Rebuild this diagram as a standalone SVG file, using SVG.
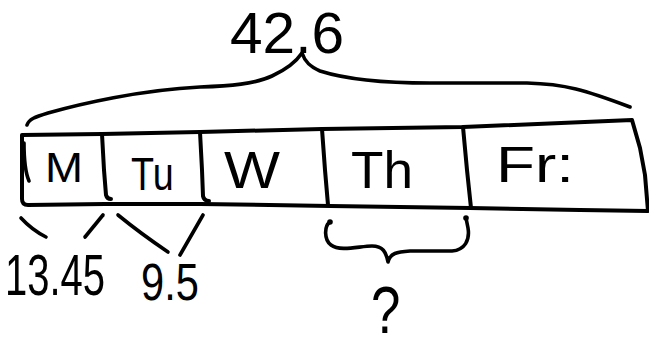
<svg xmlns="http://www.w3.org/2000/svg" width="649" height="348" viewBox="0 0 649 348">
<style>
.ink{fill:none;stroke:#000;stroke-width:3.6;stroke-linecap:round;stroke-linejoin:round}
.box{fill:none;stroke:#000;stroke-width:4;stroke-linecap:round;stroke-linejoin:round}
.t{font-family:"Liberation Sans","DejaVu Sans",sans-serif;fill:#000}
.dot{fill:#000}
</style>
<rect width="649" height="348" fill="#fff"/>
<g id="tape">
<path class="box" d="M22,135 L102,134 L200,132 L322,129 L463,127 L632,120 L640,148 L645,175 L648,211 L580,210 L470,208 L330,206 L200,204 L105,204 L28,205 Q22,205 22,199 Z"/>
<path class="ink" d="M24,143 C24,160 26,174 29,181"/>
</g>
<g id="seg-M">
<text class="t" x="45" y="182" font-size="43" textLength="38" lengthAdjust="spacingAndGlyphs">M</text>
</g>
<g id="seg-Tu">
<path class="box" d="M102,134 L104,170 L106,195 Q107,199 111,199"/>
<text class="t" font-size="46" transform="translate(131,190) scale(0.82,1)">Tu</text>
</g>
<g id="seg-W">
<path class="box" d="M200,132 L202,170 L203,196 Q204,201 209,201"/>
<text class="t" x="224" y="188" font-size="52" textLength="56" lengthAdjust="spacingAndGlyphs">W</text>
</g>
<g id="seg-Th">
<path class="box" d="M322,129 L325,170 L328,205"/>
<text class="t" x="351" y="188" font-size="52" textLength="62" lengthAdjust="spacingAndGlyphs">Th</text>
</g>
<g id="seg-Fr">
<path class="box" d="M463,127 L467,170 L471,208"/>
<text class="t" x="496" y="182" font-size="50" textLength="78" lengthAdjust="spacingAndGlyphs">Fr:</text>
</g>
<g id="total">
<text class="t" x="230" y="53" font-size="58" textLength="114" lengthAdjust="spacingAndGlyphs">42.6</text>
</g>
<g id="monday-value">
<text class="t" font-size="58" transform="translate(5,295) scale(0.69,1)">13.45</text>
</g>
<g id="tuesday-value">
<text class="t" font-size="52" transform="translate(141,300) scale(0.8,1)">9.5</text>
</g>
<g id="unknown">
<text class="t" font-size="66" transform="translate(371,333) scale(0.8,1)">?</text>
</g>
<g id="connectors">
<path class="ink" d="M27,125 C29,119 35,117 48,113 C80,104 140,90 200,87 C230,86 255,84 272,76 C285,70 296,62 302,53 C305,62 310,67 320,71 C345,79 380,83 430,83 L527,83 C565,84 585,90 630,107"/>
<path class="ink" d="M21,218 Q32,230 46,237"/>
<path class="ink" d="M103,215 L85,237"/>
<path class="ink" d="M118,215 Q140,233 168,252"/>
<path class="ink" d="M203,215 L180,255"/>
<path class="ink" d="M330,222 C324,226 324,240 331,245 C340,252 360,246 372,246 C383,246 386,252 388,262 C390,253 397,252 410,251 L452,251 C465,250 470,240 468,228 L466,218"/>
<circle class="dot" cx="330" cy="222" r="2.8"/>
<circle class="dot" cx="466" cy="218" r="2.8"/>
</g>
</svg>
